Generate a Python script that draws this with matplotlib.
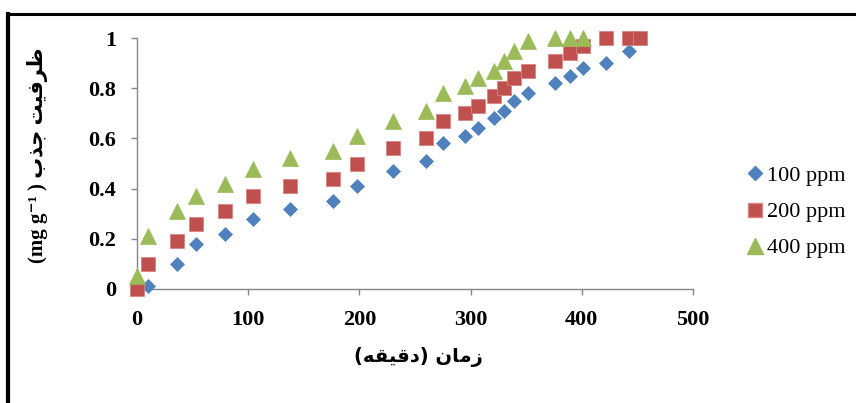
import matplotlib
matplotlib.use("Agg")
import matplotlib.pyplot as plt
from matplotlib.lines import Line2D

# ---- data ----
time_all = [0, 10, 36, 53, 79, 104, 138, 176, 198, 230, 260, 275, 295, 307,
            321, 330, 339, 352, 376, 389, 401, 422, 442, 452]
q_100 = [0, 0.01, 0.10, 0.18, 0.22, 0.28, 0.32, 0.35, 0.41, 0.47, 0.51, 0.58,
         0.61, 0.64, 0.68, 0.71, 0.75, 0.78, 0.82, 0.85, 0.88, 0.90, 0.95, 1.0]
q_200 = [0, 0.10, 0.19, 0.26, 0.31, 0.37, 0.41, 0.44, 0.50, 0.56, 0.60, 0.67,
         0.70, 0.73, 0.77, 0.80, 0.84, 0.87, 0.91, 0.94, 0.97, 1.0, 1.0, 1.0]
time_400 = time_all[:21]
q_400 = [0.05, 0.21, 0.31, 0.37, 0.42, 0.48, 0.52, 0.55, 0.61, 0.67, 0.71,
         0.78, 0.81, 0.84, 0.87, 0.91, 0.95, 0.99, 1.0, 1.0, 1.0]
series_labels = ["100 ppm", "200 ppm", "400 ppm"]
x_ticks = [0, 100, 200, 300, 400, 500]
y_ticks = [0, 0.2, 0.4, 0.6, 0.8, 1]
y_tick_labels = ["0", "0.2", "0.4", "0.6", "0.8", "1"]

# Persian labels in visual order with presentation forms
x_label = ("(\uFEEA\uFED8\uFEF4\uFED7\uFEA9) "
           "\uFEE5\uFE8E\uFEE3\uFEAF")              # زمان (دقیقه)
y_label = ("(mg g\u207B\u00B9 ) "
           "\uFE8F\uFEAC\uFE9F "
           "\uFE96\uFEF4\uFED3\uFEAE\uFEC7")          # ظرفیت جذب (mg g-1)

BLUE = "#4F81BD"
RED = "#C0504D"
GREEN = "#9BBB59"
AXIS = "#868686"

fig = plt.figure(figsize=(8.56, 4.03), dpi=100)
ax = fig.add_axes([137 / 856, 1 - 289 / 403, (693 - 137) / 856, (289 - 38) / 403])

ax.plot(time_all, q_100, linestyle="none", marker="D", markersize=6.8,
        color=BLUE, markeredgecolor=BLUE, markeredgewidth=0.5, clip_on=False,
        label=series_labels[0], zorder=3)
ax.plot(time_all, q_200, linestyle="none", marker="s", markersize=10.5,
        color=RED, markeredgecolor="#D98583", markeredgewidth=0.6, clip_on=False,
        label=series_labels[1], zorder=4)
ax.plot(time_400, q_400, linestyle="none", marker="^", markersize=11.5,
        color=GREEN, markeredgecolor=GREEN, markeredgewidth=0.5, clip_on=False,
        label=series_labels[2], zorder=5)

ax.set_xlim(0, 500)
ax.set_ylim(0, 1)
ax.set_xticks(x_ticks)
ax.set_yticks(y_ticks)
ax.set_yticklabels(y_tick_labels)
for s in ["top", "right"]:
    ax.spines[s].set_visible(False)
for s in ["left", "bottom"]:
    ax.spines[s].set_color(AXIS)
    ax.spines[s].set_linewidth(1.0)
ax.tick_params(axis="both", direction="out", length=4, width=1.0, color=AXIS,
               labelsize=16)
ax.tick_params(axis="y", pad=11)
ax.tick_params(axis="x", pad=11)
for lab in ax.get_xticklabels() + ax.get_yticklabels():
    lab.set_fontfamily("Liberation Serif")
    lab.set_fontweight("bold")

# axis titles
fig.text(418 / 856, 1 - 357 / 403, x_label, ha="center", va="center",
         fontsize=14, fontweight="bold", family=["DejaVu Sans"])
fig.text(38 / 856, 1 - 155 / 403, y_label, ha="center", va="center",
         rotation=90, fontsize=15, fontweight="bold",
         family=["Liberation Serif", "DejaVu Sans"])

# legend
h = [Line2D([], [], linestyle="none", marker="D", markersize=6.8, color=BLUE,
            markeredgecolor=BLUE),
     Line2D([], [], linestyle="none", marker="s", markersize=10.5, color=RED,
            markeredgecolor="#D98583"),
     Line2D([], [], linestyle="none", marker="^", markersize=11.5, color=GREEN,
            markeredgecolor=GREEN)]
fig.legend(h, series_labels, loc="center left",
           bbox_to_anchor=(745 / 856, 1 - 212 / 403), frameon=False,
           prop={"family": "Liberation Serif", "size": 16},
           handlelength=0.9, handletextpad=0.1, labelspacing=0.7,
           borderpad=0, borderaxespad=0)

# outer black frame (left and top)
fig.add_artist(Line2D([8 / 856, 8 / 856], [0, 1 - 14 / 403], color="black",
                      linewidth=3, transform=fig.transFigure,
                      solid_capstyle="projecting"))
fig.add_artist(Line2D([8 / 856, 1], [1 - 14 / 403, 1 - 14 / 403], color="black",
                      linewidth=2.2, transform=fig.transFigure,
                      solid_capstyle="projecting"))

fig.savefig("out.png", dpi=100)
